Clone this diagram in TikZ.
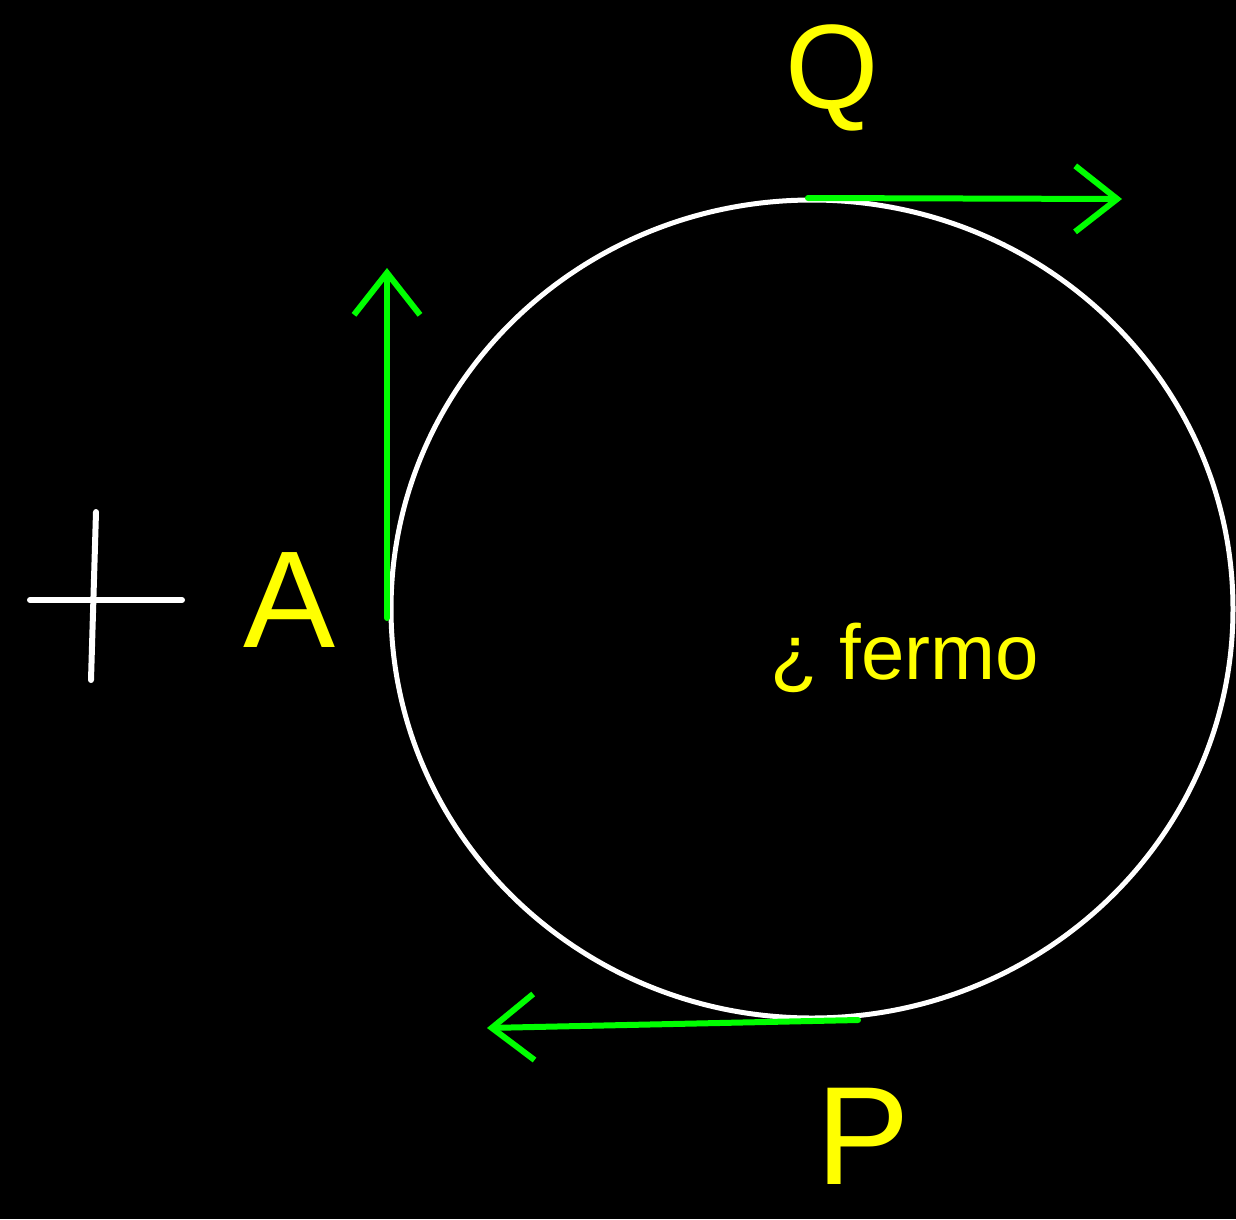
\documentclass[tikz,border=0pt]{standalone}
\usepackage{fontspec}
\setmainfont{Liberation Sans}
\usetikzlibrary{arrows.meta}
\definecolor{hgreen}{RGB}{0,255,0}
\definecolor{hyellow}{RGB}{255,255,0}
\tikzset{
  vec/.style={draw=hgreen, line width=6pt, line cap=round,
    -{Straight Barb[length=42pt, width=66pt, line width=6pt]}},
  lbl/.style={text=hyellow, inner sep=0pt},
  chalk/.style={draw=white, line width=6pt, line cap=round}
}
\begin{document}
\begin{tikzpicture}[x=1pt, y=-1pt]
\fill[black] (0,0) rectangle (1236,1219);
\useasboundingbox (0,0) rectangle (1236,1219);
% circle
\coordinate (O) at (812,609);
\draw[white, line width=5pt] (O) ellipse [x radius=421, y radius=409];
% vectors
\coordinate (a1) at (387,618);
\coordinate (a2) at (387,268);
\coordinate (q1) at (808,198);
\coordinate (q2) at (1122,199);
\coordinate (p1) at (858,1020);
\coordinate (p2) at (487,1028);
\draw[vec] (a1) -- (a2);
\draw[vec] (q1) -- (q2);
\draw[vec] (p1) -- (p2);
% plus sign
\coordinate (h1) at (30,600);
\coordinate (h2) at (182,600);
\coordinate (v1) at (96,512);
\coordinate (v2) at (91,680);
\draw[chalk] (h1) -- (h2);
\draw[chalk] (v1) -- (v2);
% labels
\node[lbl, anchor=base, font=\fontsize{120}{120}\selectfont] (Q) at (832,108) {Q};
\node[lbl, font=\fontsize{138}{138}\selectfont] (A) at (290,600) {A};
\node[lbl, anchor=base, font=\fontsize{140}{140}\selectfont] (P) at (863,1184) {P};
\node[lbl, font=\fontsize{78}{78}\selectfont] (F) at (905,658) {¿ fermo};
\end{tikzpicture}
\end{document}
